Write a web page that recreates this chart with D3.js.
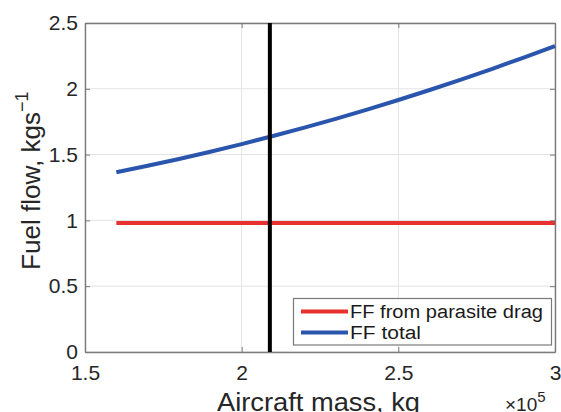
<!DOCTYPE html>
<html>
<head>
<meta charset="utf-8">
<script src="https://cdn.jsdelivr.net/npm/d3@7"></script>
<style>
  html, body { margin: 0; padding: 0; background: #fff; }
  svg { display: block; font-family: "Liberation Sans", Arial, sans-serif; }
</style>
</head>
<body>
<svg id="chart" width="561" height="412"></svg>
<script>
// Aircraft mass (x 1e5 kg)
const massValues = [1.6, 1.7, 1.8, 1.9, 2.0, 2.1, 2.2, 2.3, 2.4, 2.5, 2.6, 2.7, 2.8, 2.9, 3.0];
// Fuel flow from parasite drag (kg/s)
const ffParasite = [0.98, 0.98, 0.98, 0.98, 0.98, 0.98, 0.98, 0.98, 0.98, 0.98, 0.98, 0.98, 0.98, 0.98, 0.98];
// Total fuel flow (kg/s)
const ffTotal = [1.366, 1.415, 1.467, 1.522, 1.580, 1.641, 1.705, 1.772, 1.842, 1.915, 1.991, 2.070, 2.152, 2.237, 2.325];
// Operating mass marker (x 1e5 kg)
const markerMass = [2.09];

const xTicks = [1.5, 2, 2.5, 3];
const yTicks = [0, 0.5, 1, 1.5, 2, 2.5];
const seriesNames = ["FF from parasite drag", "FF total"];
const seriesColors = ["#e8302f", "#2a55ac"];

const svg = d3.select("#chart");
const plot = { left: 85, top: 23, right: 555, bottom: 352 };

const x = d3.scaleLinear().domain([1.5, 3]).range([plot.left, plot.right]);
const y = d3.scaleLinear().domain([0, 2.5]).range([plot.bottom, plot.top]);

// grid lines
const grid = svg.append("g").attr("stroke", "#e3e3e3").attr("stroke-width", 1);
xTicks.forEach(t => grid.append("line")
  .attr("x1", x(t)).attr("x2", x(t)).attr("y1", plot.top).attr("y2", plot.bottom));
yTicks.forEach(t => grid.append("line")
  .attr("x1", plot.left).attr("x2", plot.right).attr("y1", y(t)).attr("y2", y(t)));

// axes with inward ticks on all four sides
const axisColor = "#7a7a7a";
function styleAxis(g) {
  g.select(".domain").attr("stroke", axisColor).attr("stroke-width", 1.4);
  g.selectAll(".tick line").attr("stroke", axisColor).attr("stroke-width", 1);
  g.selectAll(".tick text").attr("fill", "#262626").style("font-size", "21px");
}
const fmt = d => String(d);

svg.append("g").attr("transform", `translate(0,${plot.bottom})`)
  .call(d3.axisBottom(x).tickValues(xTicks).tickFormat(fmt).tickSizeInner(-5).tickSizeOuter(0).tickPadding(13))
  .call(styleAxis);
svg.append("g").attr("transform", `translate(0,${plot.top})`)
  .call(d3.axisTop(x).tickValues(xTicks).tickFormat("").tickSizeInner(-5).tickSizeOuter(0))
  .call(styleAxis);
svg.append("g").attr("transform", `translate(${plot.left},0)`)
  .call(d3.axisLeft(y).tickValues(yTicks).tickFormat(fmt).tickSizeInner(-5).tickSizeOuter(0).tickPadding(7))
  .call(styleAxis);
svg.append("g").attr("transform", `translate(${plot.right},0)`)
  .call(d3.axisRight(y).tickValues(yTicks).tickFormat("").tickSizeInner(-5).tickSizeOuter(0))
  .call(styleAxis);

// data lines
const line = d3.line().x((d, i) => x(massValues[i])).y(d => y(d)).curve(d3.curveMonotoneX);
[ffParasite, ffTotal].forEach((series, k) => {
  svg.append("path").datum(series)
    .attr("fill", "none").attr("stroke", seriesColors[k]).attr("stroke-width", 4)
    .attr("d", line);
});

// vertical marker
svg.append("line")
  .attr("x1", x(markerMass[0])).attr("x2", x(markerMass[0]))
  .attr("y1", y(2.5)).attr("y2", y(0))
  .attr("stroke", "#000").attr("stroke-width", 4);

// legend
const lg = svg.append("g");
lg.append("rect").attr("x", 293.5).attr("y", 298.5).attr("width", 258).attr("height", 46.5)
  .attr("fill", "#fff").attr("stroke", axisColor).attr("stroke-width", 1.2);
seriesNames.forEach((name, k) => {
  const cy = 311.5 + k * 21;
  lg.append("line").attr("x1", 301).attr("x2", 348).attr("y1", cy).attr("y2", cy)
    .attr("stroke", seriesColors[k]).attr("stroke-width", 4);
  lg.append("text").attr("x", 350).attr("y", cy + 6.5)
    .attr("fill", "#1a1a1a").style("font-size", "18px").text(name)
    .attr("textLength", k === 0 ? 193 : 71).attr("lengthAdjust", "spacingAndGlyphs");
});

// axis labels
svg.append("text").attr("x", 217).attr("y", 411)
  .attr("fill", "#262626").style("font-size", "26px")
  .attr("textLength", 203).attr("lengthAdjust", "spacingAndGlyphs")
  .text("Aircraft mass, kg");

const exp = svg.append("text").attr("x", 505).attr("y", 410.5)
  .attr("fill", "#262626").style("font-size", "19px");
exp.append("tspan").text("\u00d710");
exp.append("tspan").attr("dy", -9).style("font-size", "15px").text("5");

const yl = svg.append("text")
  .attr("transform", "translate(40,270) rotate(-90)")
  .attr("fill", "#262626").style("font-size", "26px");
yl.append("tspan").attr("textLength", 158).attr("lengthAdjust", "spacingAndGlyphs").text("Fuel flow, kgs");
yl.append("tspan").attr("dy", -12).style("font-size", "18px").text("\u22121");
</script>
</body>
</html>
